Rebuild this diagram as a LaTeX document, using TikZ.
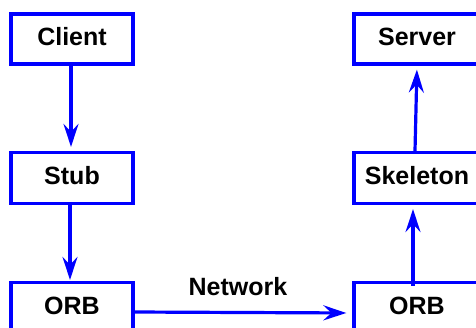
\documentclass[tikz,border=0pt]{standalone}
\usepackage{fontspec}
\setmainfont{Liberation Sans}
\usetikzlibrary{arrows.meta}
\definecolor{lineblue}{RGB}{0,0,255}
\tikzset{
  box/.style={draw=lineblue, line width=3.2pt, minimum height=50pt, inner sep=0pt,
    font=\fontsize{25pt}{28pt}\selectfont\bfseries, text height=17.8pt, text depth=4.3pt},
  lbox/.style={box, minimum width=122pt},
  rbox/.style={box, minimum width=126pt},
  link/.style={draw=lineblue, line width=3.2pt, -{Stealth[length=23pt, width=15pt, inset=8pt]}},
  lbl/.style={font=\fontsize{25pt}{28pt}\selectfont\bfseries, inner sep=0pt, anchor=base}
}
\begin{document}
\begin{tikzpicture}[x=1pt, y=-1pt]
\useasboundingbox (0,0) rectangle (476,328);
\clip (0,0) rectangle (476,328);
\node[lbox] (client) at (72,39) {Client};
\node[lbox, minimum height=51pt] (stub) at (72,178) {Stub};
\node[lbox] (orbl) at (72,307.5) {ORB};
\node[rbox] (server) at (417,39) {Server};
\node[rbox, minimum height=51pt] (skel) at (417,178) {Skeleton};
\node[rbox] (orbr) at (417,307.5) {ORB};
\node[lbl] (net) at (238,295) {Network};
\draw[link, shorten >=4pt] ([xshift=-1pt]client.south) -- ([xshift=-1pt]stub.north);
\draw[link, shorten <=-2pt, shorten >=1pt] ([xshift=-2pt]stub.south) -- ([xshift=-2pt]orbl.north);
\draw[link, shorten <=-5pt, shorten >=4pt] ([xshift=-4pt]orbr.north) -- ([xshift=-4pt]skel.south);
\draw[link, shorten >=4pt] ([xshift=-2pt]skel.north) -- (server.south);
\draw[link, shorten >=6pt] ([xshift=-2pt, yshift=-4.5pt]orbl.east) -- ([yshift=-5.5pt]orbr.west);
\end{tikzpicture}
\end{document}
